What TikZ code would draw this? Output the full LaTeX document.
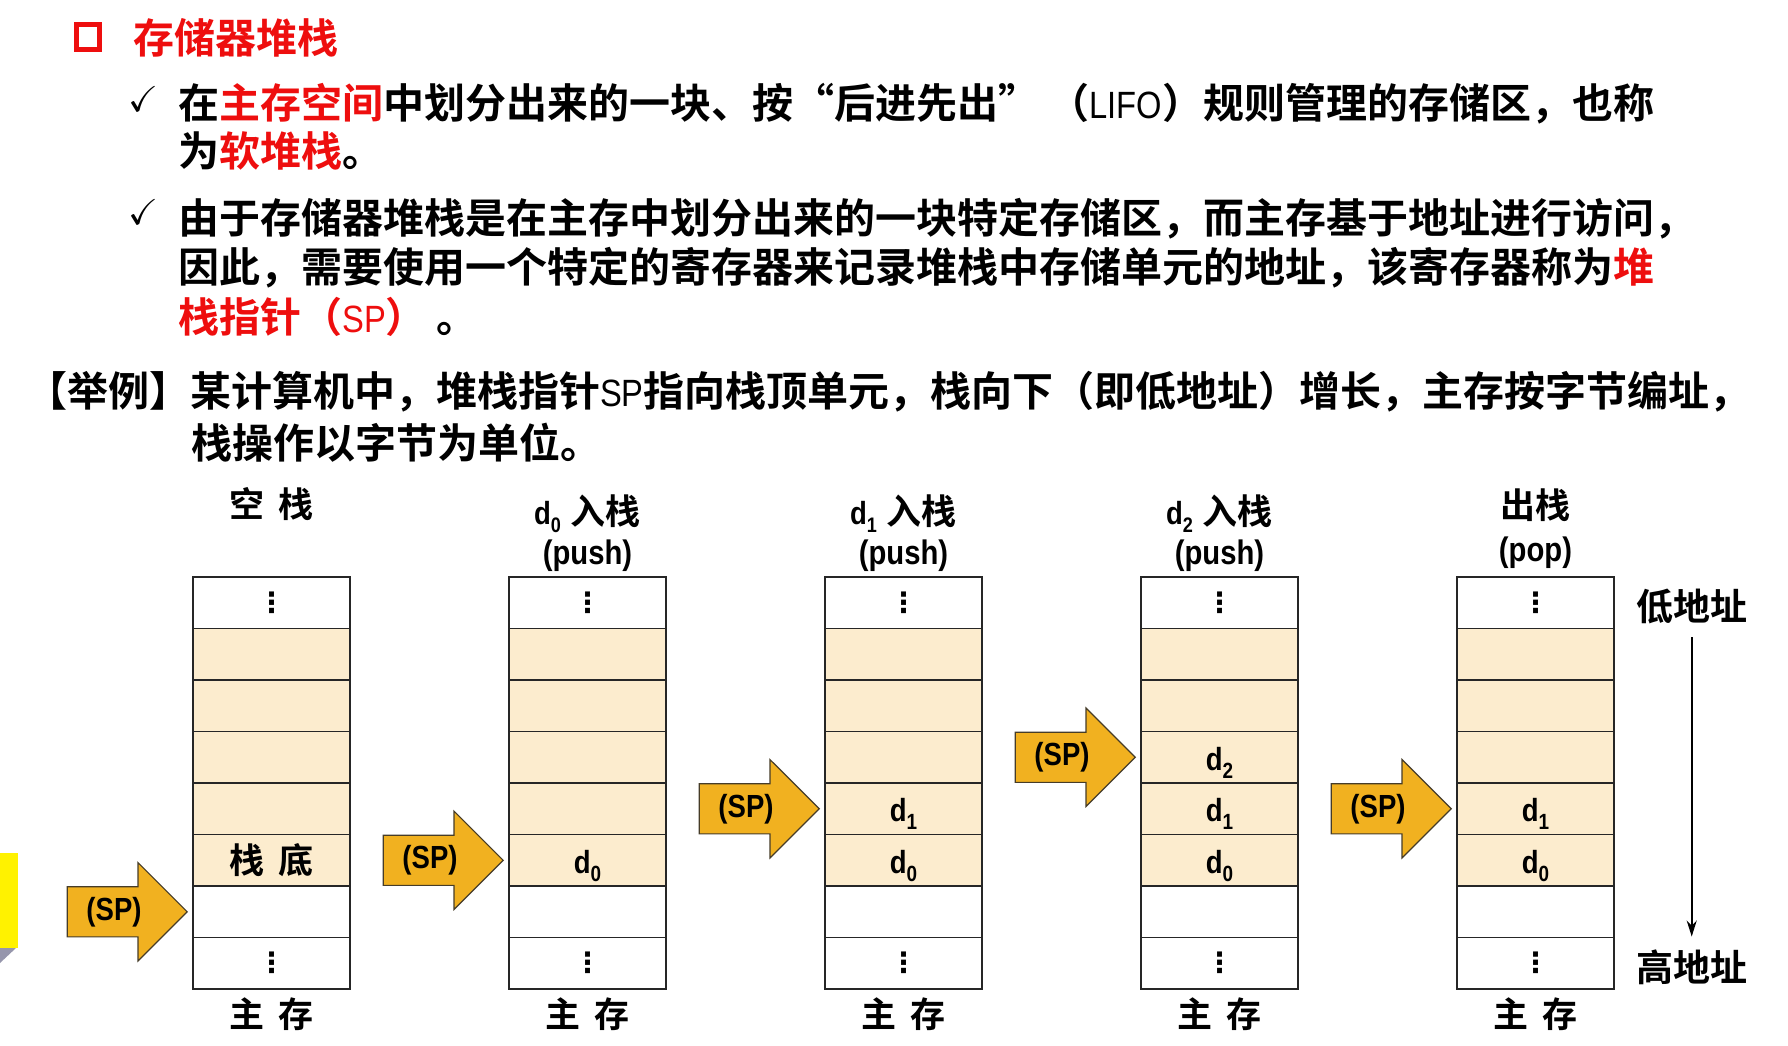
\documentclass[tikz,border=0pt]{standalone}
\usepackage{fontspec}
\usepackage{amssymb}
\setmainfont{Liberation Sans}
\newfontfamily\cjkb{Noto Sans CJK SC Bold}
\newfontfamily\narrow{Liberation Sans}[FakeStretch=0.86]
\newfontfamily\symb{DejaVu Sans Bold}
\usetikzlibrary{arrows.meta, positioning, shapes.arrows}

\definecolor{slidered}{RGB}{238,14,14}
\definecolor{cellfill}{RGB}{252,236,206}
\definecolor{spfill}{RGB}{241,177,32}
\definecolor{spline}{RGB}{70,60,40}
\definecolor{bevel}{RGB}{150,150,172}

\newcommand{\dsub}[2][22]{d\raisebox{-8pt}{\fontsize{#1}{#1}\selectfont #2}}

\begin{document}
\begin{tikzpicture}[x=1pt, y=-1pt, node distance=6pt, >={Stealth[length=16pt, width=10pt]},
  txt/.style={anchor=base west, inner sep=0pt, font=\cjkb\fontsize{41}{41}\selectfont},
  cellw/.style={rectangle, draw=black!85, line width=1.8pt, fill=white, outer sep=0pt, inner sep=0pt, minimum width=157pt, minimum height=51.5pt, font=\symb\fontsize{28}{28}\selectfont},
  cellb/.style={cellw, fill=cellfill},
  sparrow/.style={single arrow, draw=spline, line width=1.2pt, fill=spfill, minimum height=120pt, minimum width=97pt, single arrow head extend=24pt, inner xsep=0pt, inner ysep=24.5pt},
  sptext/.style={inner sep=0pt, font=\narrow\bfseries\fontsize{32}{32}\selectfont},
  head/.style={inner sep=0pt, font=\cjkb\fontsize{35}{35}\selectfont},
  latin/.style={inner sep=0pt, font=\narrow\bfseries\fontsize{34}{34}\selectfont},
  dlab/.style={anchor=base, yshift=-13pt, inner sep=0pt, font=\narrow\bfseries\fontsize{32}{32}\selectfont}]

\fill[white] (0,0) rectangle (1788,1046);
\useasboundingbox (0,0) rectangle (1788,1046);

% slide edge
\fill[yellow] (0,853) rectangle (18,948);
\fill[bevel] (0,948) -- (16,948) -- (0,963) -- cycle;

% text
\node[draw=slidered, line width=5pt, minimum width=23pt, minimum height=25pt, inner sep=0pt] (bullet) at (88,37) {};
\node[txt, text=slidered] (title) at (133,54) {存储器堆栈};
\node[font=\fontsize{36}{36}\selectfont, inner sep=0pt] (chk1) at (143,99) {$\checkmark$};
\node[txt] (l1) at (178,119) {在\textcolor{slidered}{主存空间}中划分出来的一块、按“后进先出” （{\narrow\fontsize{38}{38}\selectfont LIFO}）规则管理的存储区，也称};
\node[txt] (l2) at (178,167) {为\textcolor{slidered}{软堆栈}。};
\node[font=\fontsize{36}{36}\selectfont, inner sep=0pt] (chk2) at (143,212) {$\checkmark$};
\node[txt] (l3) at (178,233) {由于存储器堆栈是在主存中划分出来的一块特定存储区，而主存基于地址进行访问，};
\node[txt] (l4) at (178,282) {因此，需要使用一个特定的寄存器来记录堆栈中存储单元的地址，该寄存器称为\textcolor{slidered}{堆}};
\node[txt] (l5) at (178,332) {\textcolor{slidered}{栈指针（{\narrow\fontsize{38}{38}\selectfont SP}）} 。};
\node[txt] (ex1) at (26,406) {【举例】某计算机中，堆栈指针{\narrow\fontsize{38}{38}\selectfont SP}指向栈顶单元，栈向下（即低地址）增长，主存按字节编址，};
\node[txt] (ex2) at (191,458) {栈操作以字节为单位。};

% stacks
\foreach \s/\x in {1/193, 2/509, 3/825, 4/1141, 5/1457} {
  \node[cellw, anchor=north west] (s\s-0) at (\x,577) {⋮};
  \foreach \r [remember=\r as \p (initially 0)] in {1,...,5}
    \node[cellb, below=0pt of s\s-\p] (s\s-\r) {};
  \node[cellw, below=0pt of s\s-5] (s\s-6) {};
  \node[cellw, below=0pt of s\s-6] (s\s-7) {⋮};
  \node[head, below=9pt of s\s-7] (mem\s) {主\hspace{15pt}存};
}

% cell contents
\node[head] (bottom1) at (s1-5) {栈\hspace{15pt}底};
\node[dlab] (d2-0) at (s2-5) {\dsub0};
\node[dlab] (d3-1) at (s3-4) {\dsub1};
\node[dlab] (d3-0) at (s3-5) {\dsub0};
\node[dlab] (d4-2) at (s4-3) {\dsub2};
\node[dlab] (d4-1) at (s4-4) {\dsub1};
\node[dlab] (d4-0) at (s4-5) {\dsub0};
\node[dlab] (d5-1) at (s5-4) {\dsub1};
\node[dlab] (d5-0) at (s5-5) {\dsub0};

% headings
\node[head, above=56pt of s1-0] (op1) {空\hspace{15pt}栈};
\foreach \s/\k in {2/0, 3/1, 4/2} {
  \node[latin, above=5pt of s\s-0] (push\s) {(push)};
  \node[head, above=7pt of push\s] (op\s) {{\narrow\bfseries\fontsize{32}{32}\selectfont\dsub[21]{\k}}\hspace{10pt}入栈};
}
\node[latin, above=8pt of s5-0] (pop5) {(pop)};
\node[head, above=15pt of pop5] (op5) {出栈};

% stack pointer
\foreach \s/\r in {1/6, 2/5, 3/4, 4/3, 5/4} {
  \node[sparrow, anchor=tip] (sp\s) at ([xshift=-5pt]s\s-\r.west) {};
  \node[sptext] (spt\s) at ([xshift=-74pt]sp\s.tip) {(SP)};
}

% address direction
\node[head, font=\cjkb\fontsize{37}{37}\selectfont, right=22pt of s5-0, yshift=-4pt] (low) {低地址};
\node[head, font=\cjkb\fontsize{37}{37}\selectfont, right=22pt of s5-7, yshift=-4pt] (high) {高地址};
\draw[->, line width=1.8pt, shorten <=13pt, shorten >=13pt] (low) -- (high);
\end{tikzpicture}
\end{document}
